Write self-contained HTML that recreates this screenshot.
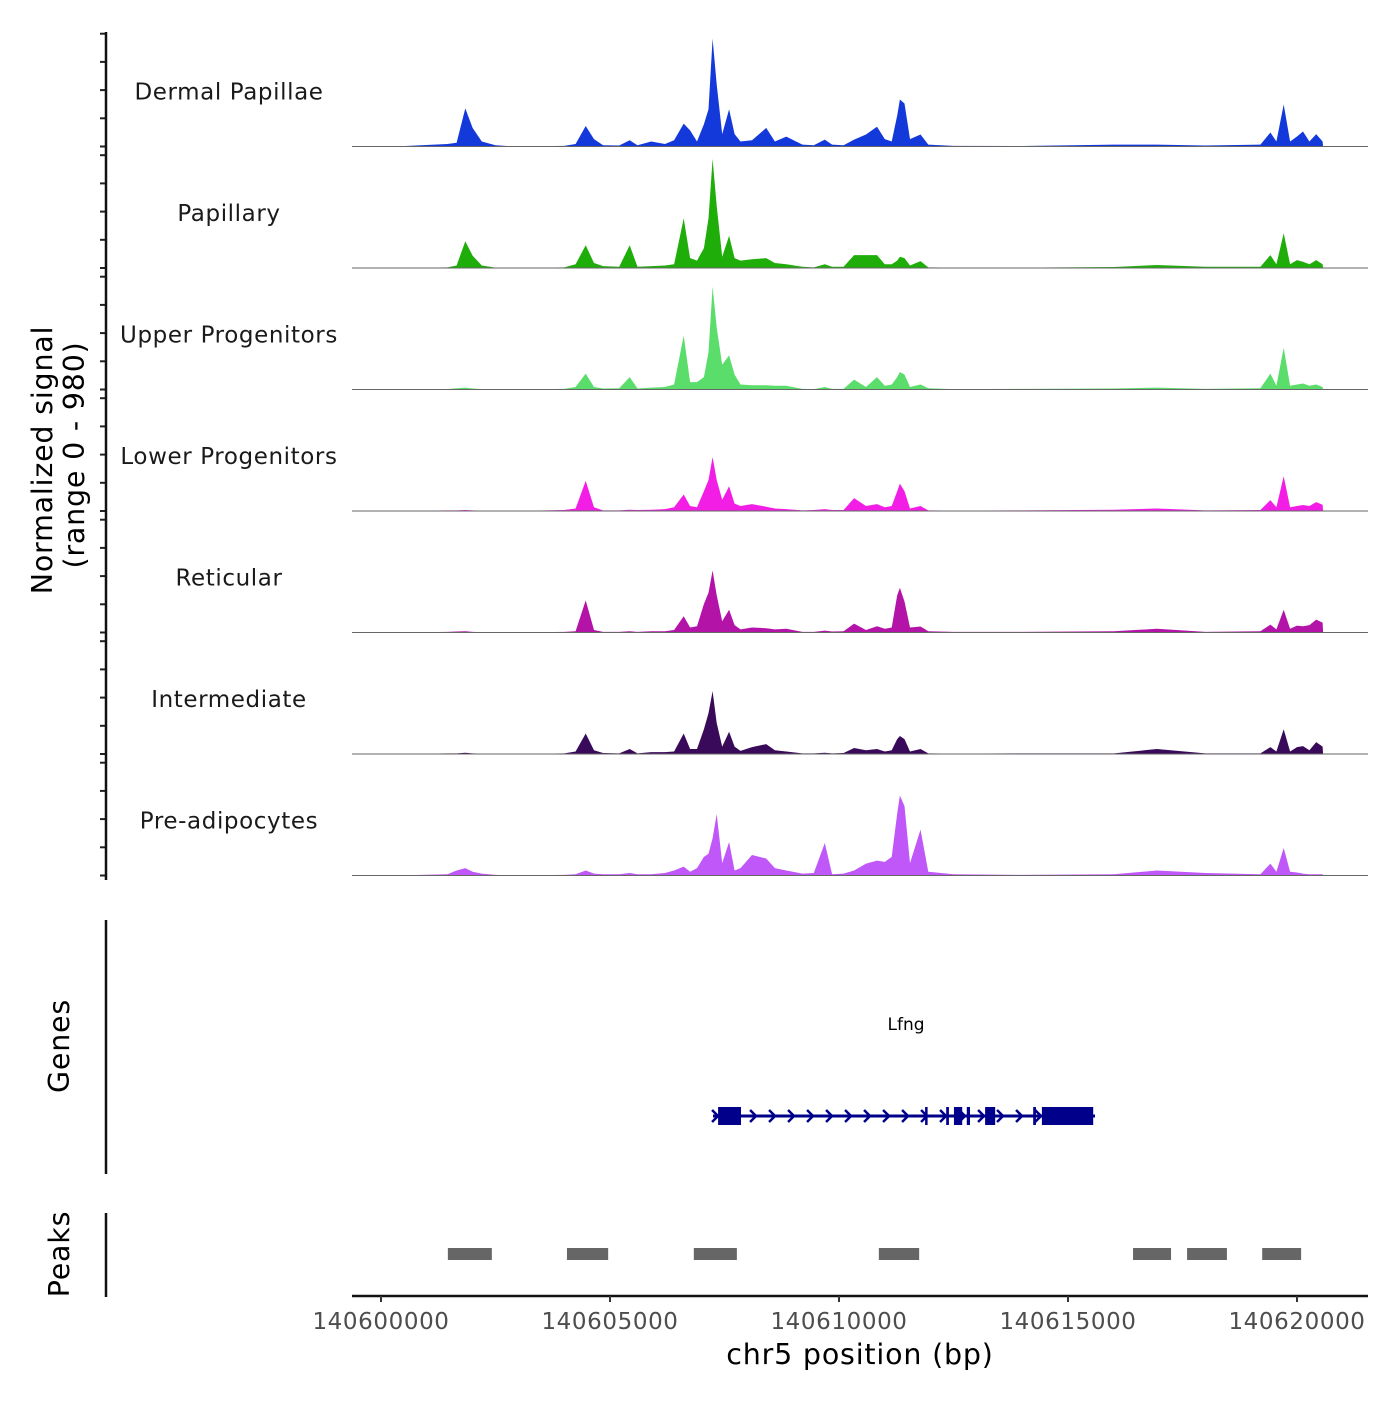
<!DOCTYPE html>
<html><head><meta charset="utf-8"><style>
body{margin:0;background:#fff}
svg text{font-family:"DejaVu Sans","Liberation Sans",sans-serif}
</style></head><body>
<svg id="chart" width="1400" height="1400" viewBox="0 0 1400 1400" xmlns="http://www.w3.org/2000/svg"></svg>
<script>
// ---- data ----
const trackNames = ["Dermal Papillae","Papillary","Upper Progenitors","Lower Progenitors","Reticular","Intermediate","Pre-adipocytes"];
const trackColors = ["#1439db","#1fad0a","#5bdd6b","#f21ee6","#b413a8","#3a0a5a","#c057f9"];
// positions in kb offset from 140600000
const positionsKb = [0.3,1.45,1.65,1.84,2.0,2.2,2.5,2.9,4.0,4.25,4.47,4.65,4.85,5.2,5.43,5.6,5.9,6.2,6.4,6.61,6.75,6.9,7.05,7.15,7.24,7.33,7.45,7.6,7.72,7.85,8.1,8.41,8.6,8.85,9.2,9.45,9.69,9.85,10.1,10.33,10.59,10.83,11.0,11.15,11.27,11.33,11.43,11.55,11.78,11.95,12.5,14.0,16.0,16.94,18.0,19.2,19.42,19.55,19.71,19.85,20.0,20.13,20.27,20.42,20.56,20.57];
const dermalPapillae = [0,20,30,307,150,40,10,0,5,20,165,60,10,8,50,10,40,20,50,185,130,40,180,300,870,500,100,300,100,40,50,150,40,80,15,10,56,15,10,56,97,160,60,40,250,379,347,60,97,15,5,4,15,15,8,15,113,40,339,40,81,121,40,100,40,0];
const papillary = [0,5,20,216,100,20,3,0,5,30,184,40,15,10,184,10,15,20,30,400,80,60,160,400,880,500,90,260,80,60,70,80,40,30,10,5,30,10,10,104,104,104,30,30,60,90,80,20,56,5,3,3,8,24,10,10,104,30,280,30,64,50,30,64,30,0];
const upperProgenitors = [0,3,10,15,8,3,2,0,5,20,128,20,8,10,100,8,15,20,40,435,60,60,100,300,830,500,200,275,120,40,35,35,30,30,5,3,20,5,5,80,20,100,30,40,100,141,120,20,40,10,3,5,8,15,5,10,128,30,336,30,40,48,30,40,20,0];
const lowerProgenitors = [0,5,5,8,5,3,3,0,8,20,243,30,5,5,10,8,10,15,30,133,40,30,160,250,435,250,90,200,60,40,56,35,20,15,5,8,15,8,8,104,40,56,30,40,160,221,160,20,40,5,3,5,10,20,5,8,88,30,280,30,40,48,40,72,50,0];
const reticular = [0,5,8,10,5,3,2,0,5,10,259,20,5,5,10,5,10,10,20,131,40,50,230,320,500,300,90,184,60,25,40,35,25,30,5,5,15,8,10,72,20,50,30,40,300,360,250,40,48,10,5,5,10,30,5,10,64,25,184,30,56,50,60,104,80,0];
const intermediate = [0,5,5,10,5,3,2,0,5,20,165,30,8,5,40,5,15,15,20,165,40,40,200,330,507,250,60,180,60,25,56,80,30,20,5,5,10,5,8,48,30,40,20,30,120,145,120,20,40,5,3,5,5,40,5,5,56,20,200,20,56,64,30,96,60,0];
const preAdipocytes = [0,10,40,60,30,15,5,0,5,10,40,15,10,10,20,10,10,20,40,72,30,60,150,176,300,496,100,270,40,60,165,137,60,40,15,20,262,10,15,40,96,120,110,150,500,645,560,100,370,30,10,5,10,40,20,10,96,30,222,30,24,15,10,10,10,0];
const trackValues = [dermalPapillae,papillary,upperProgenitors,lowerProgenitors,reticular,intermediate,preAdipocytes];
const xTickValues = [140600000,140605000,140610000,140615000,140620000];
const xTickLabels = ["140600000","140605000","140610000","140615000","140620000"];
const peakStartsKb = [1.46,4.06,6.83,10.87,16.42,17.60,19.24];
const peakEndsKb = [2.42,4.96,7.77,11.75,17.25,18.47,20.09];
const exonStartsKb = [7.36,11.88,12.34,12.51,12.79,13.19,14.24,14.43];
const exonEndsKb = [7.86,11.92,12.40,12.69,12.86,13.41,14.30,15.55];
const geneStartKb = 7.25, geneEndKb = 15.59;
const yMax = 980;

// ---- scales ----
const X0 = 381, PX_PER_BP = 229/5000;
function xScale(bp){ return X0 + (bp-140600000)*PX_PER_BP; }
function xKb(kb){ return xScale(140600000 + kb*1000); }
const trackH = 121.5, firstBase = 146.5;
function baseY(i){ return firstBase + i*trackH; }
function yScale(i,v){ return baseY(i) - v/yMax*trackH; }

const svg = document.getElementById('chart');
const NS = "http://www.w3.org/2000/svg";
function mk(tag, attrs, parent){ const e=document.createElementNS(NS,tag); for(const k in attrs) e.setAttribute(k,attrs[k]); (parent||svg).appendChild(e); return e; }

// tracks
trackNames.forEach((name,i)=>{
  const g = mk('g',{});
  
  
  let d = 'M'+xKb(positionsKb[0]).toFixed(1)+','+baseY(i);
  positionsKb.forEach((p,j)=>{ d += ' L'+xKb(p).toFixed(1)+','+yScale(i,trackValues[i][j]).toFixed(1); });
  d += ' L'+xKb(positionsKb[positionsKb.length-1]).toFixed(1)+','+baseY(i)+' Z';
  const a = mk('path',{d:d,fill:trackColors[i],stroke:'none'},g);
  
  
  const bl = mk('line',{x1:352,x2:1368,y1:baseY(i),y2:baseY(i),stroke:'#666','stroke-width':1},g);
  
  
  const t = mk('text',{x:229,y:baseY(i)-47,'text-anchor':'middle','font-size':23,fill:'#1a1a1a','letter-spacing':'0.6'},g);
  t.textContent = name;
  
  
  for(let k=0;k<5;k++){
    const ty = baseY(i) - k*28.2;
    const tk = mk('line',{x1:100,x2:106,y1:ty,y2:ty,stroke:'#222','stroke-width':2},g);
    
    
  }
});
</script>
<script>
// axes & titles
const yAxis = mk('line',{x1:106,x2:106,y1:32,y2:880,stroke:'#111','stroke-width':2.5});


const yt1 = mk('text',{x:0,y:0,transform:'translate(52,460) rotate(-90)','text-anchor':'middle','font-size':28.5,fill:'#000','letter-spacing':'0.8'});
yt1.textContent='Normalized signal';


const yt2 = mk('text',{x:0,y:0,transform:'translate(84,455) rotate(-90)','text-anchor':'middle','font-size':28.5,fill:'#000','letter-spacing':'0.8'});
yt2.textContent='(range 0 - 980)';



// genes panel
const gAxis = mk('line',{x1:106,x2:106,y1:920,y2:1174,stroke:'#111','stroke-width':2.5});


const gt = mk('text',{x:0,y:0,transform:'translate(69,1046) rotate(-90)','text-anchor':'middle','font-size':28.5,fill:'#000','letter-spacing':'0.8'});
gt.textContent='Genes';


const gene = mk('g',{});


const gl = mk('line',{x1:xKb(geneStartKb),x2:xKb(geneEndKb),y1:1116,y2:1116,stroke:'#00008b','stroke-width':3},gene);


for(let x=xKb(geneStartKb)+2; x<xKb(geneEndKb)-10; x+=19){
  const ch = mk('polyline',{points:(x-3)+',1110 '+(x+3)+',1116 '+(x-3)+',1122',fill:'none',stroke:'#00008b','stroke-width':2.5},gene);
  
  
}
exonStartsKb.forEach((s,i)=>{
  const x1=xKb(s), x2=xKb(exonEndsKb[i]);
  const r = mk('rect',{x:x1,y:1107,width:Math.max(2.5,x2-x1),height:18,fill:'#00008b'},gene);
  
  
});
const gn = mk('text',{x:906,y:1030,'text-anchor':'middle','font-size':17,fill:'#000'},gene);
gn.textContent='Lfng';



// peaks panel
const pAxis = mk('line',{x1:106,x2:106,y1:1213,y2:1297,stroke:'#111','stroke-width':2.5});


const pt = mk('text',{x:0,y:0,transform:'translate(69,1254) rotate(-90)','text-anchor':'middle','font-size':28.5,fill:'#000','letter-spacing':'0.8'});
pt.textContent='Peaks';


peakStartsKb.forEach((s,i)=>{
  const r = mk('rect',{x:xKb(s),y:1248,width:xKb(peakEndsKb[i])-xKb(s),height:12,fill:'#666'});
  
  
});

// x axis
const xAxis = mk('line',{x1:352,x2:1368,y1:1296,y2:1296,stroke:'#111','stroke-width':2.5});


xTickValues.forEach((v,i)=>{
  const x = xScale(v);
  const tk = mk('line',{x1:x,x2:x,y1:1296,y2:1302,stroke:'#333','stroke-width':2});
  
  
  const t = mk('text',{x:x,y:1329,'text-anchor':'middle','font-size':23,fill:'#4d4d4d','letter-spacing':'0.6'});
  t.textContent = xTickLabels[i];
  
  
});
const xt = mk('text',{x:860,y:1364,'text-anchor':'middle','font-size':28.5,fill:'#000','letter-spacing':'0.8'});
xt.textContent='chr5 position (bp)';


</script>
</body></html>
